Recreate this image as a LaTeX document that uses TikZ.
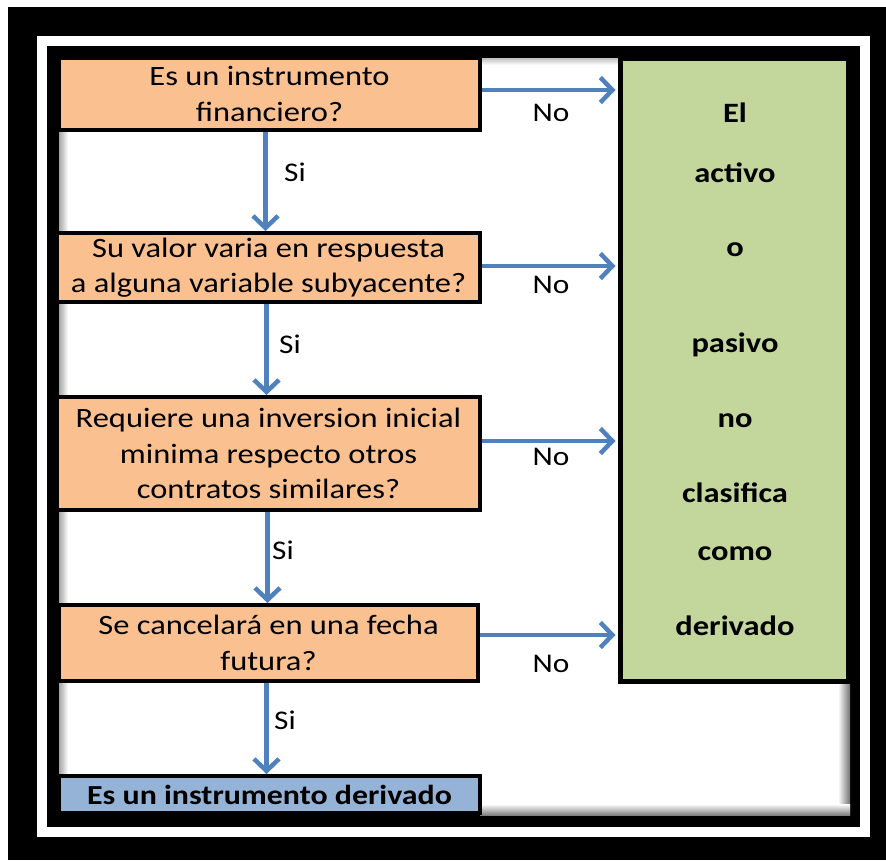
\documentclass[tikz,border=0pt]{standalone}
\usepackage{fontspec}
\setmainfont{Carlito}[FakeStretch=1.16]
\usetikzlibrary{arrows.meta}
\definecolor{orng}{HTML}{FAC090}
\definecolor{grn}{HTML}{C3D69B}
\definecolor{blu}{HTML}{95B3D7}
\definecolor{arrc}{HTML}{4F81BD}
\begin{document}
\begin{tikzpicture}[x=1pt,y=-1pt,
  qbox/.style={draw=black,line width=4pt,fill=orng,align=center,inner sep=0pt,
    font=\fontsize{28}{35.5}\selectfont},
  lbl/.style={inner sep=0pt,font=\fontsize{27}{32}\selectfont},
  gtxt/.style={inner sep=0pt,anchor=base,font=\fontsize{28}{32}\selectfont\bfseries},
  flow/.style={draw=arrc,line width=4.5pt,-{Straight Barb[length=12pt,width=25pt]}}]
\useasboundingbox (0,0) rectangle (886,860);
% frames
\fill[black] (8,7) rectangle (886,860);
\fill[white] (37,36) rectangle (870,837);
\fill[black] (47,46) rectangle (860,827);
\fill[white] (59,58) rectangle (850,815);
% soft shadows
\shade[left color=black!35, right color=white] (59,130) rectangle (68,776);
\shade[left color=white, right color=black!55] (838,683) rectangle (850,815);
\shade[top color=white, bottom color=black!50] (480,804) rectangle (850,815);
\shade[top color=black!25, bottom color=white] (480,58) rectangle (618,65);
% boxes
\node[qbox,minimum width=421pt,minimum height=72pt] (b1) at (269.5,94) {Es un instrumento\\financiero?};
\node[qbox,minimum width=423pt,minimum height=69pt] (b2) at (268.5,267.5) {Su valor varia en respuesta\\a alguna variable subyacente?};
\node[qbox,minimum width=423pt,minimum height=113pt] (b3) at (268.5,453.5) {Requiere una inversion inicial\\minima respecto otros\\contratos similares?};
\node[qbox,minimum width=419pt,minimum height=76pt] (b4) at (268.5,643) {Se cancelará en una fecha\\futura?};
\node[draw=black,line width=4pt,fill=blu,inner sep=0pt,minimum width=421pt,minimum height=37pt,
  font=\fontsize{27.5}{32}\selectfont\bfseries] (b5) at (269.5,794.5) {Es un instrumento derivado};
\node[draw=black,line width=5pt,fill=grn,inner sep=0pt,minimum width=228pt,minimum height=623pt] (g) at (734,369.5) {};
% green text
\node[gtxt] (g1) at (735,122) {El};
\node[gtxt] (g2) at (735,182) {activo};
\node[gtxt] (g3) at (735,256) {o};
\node[gtxt] (g4) at (735,352) {pasivo};
\node[gtxt] (g5) at (735,427) {no};
\node[gtxt] (g6) at (735,502) {clasifica};
\node[gtxt] (g7) at (735,560) {como};
\node[gtxt] (g8) at (735,635) {derivado};
% vertical arrows
\coordinate (s1) at ([xshift=-4pt]b1.south);
\coordinate (s2) at ([xshift=-2pt]b2.south);
\coordinate (s3) at ([xshift=-1pt]b3.south);
\coordinate (s4) at ([xshift=-2pt]b4.south);
\draw[flow] (s1) -- (s1 |- b2.north);
\draw[flow] (s2) -- (s2 |- b3.north);
\draw[flow] (s3) -- (s3 |- b4.north);
\draw[flow] (s4) -- (s4 |- b5.north);
% horizontal arrows
\coordinate (e1) at ([yshift=4pt]b1.east);
\coordinate (e2) at ([yshift=1.5pt]b2.east);
\coordinate (e3) at ([yshift=12.5pt]b3.east);
\coordinate (e4) at ([yshift=8pt]b4.east);
\draw[flow] (e1) -- ([xshift=-2pt]e1 -| g.west);
\draw[flow] (e2) -- ([xshift=-2pt]e2 -| g.west);
\draw[flow] (e3) -- ([xshift=-2pt]e3 -| g.west);
\draw[flow] (e4) -- ([xshift=-2pt]e4 -| g.west);
% labels
\node[lbl] (si1) at (295,172) {Si};
\node[lbl] (si2) at (290,344) {Si};
\node[lbl] (si3) at (283,550) {Si};
\node[lbl] (si4) at (285,720) {Si};
\node[lbl] (no1) at (551,113) {No};
\node[lbl] (no2) at (551,285) {No};
\node[lbl] (no3) at (551,457) {No};
\node[lbl] (no4) at (551,664) {No};
\end{tikzpicture}
\end{document}
